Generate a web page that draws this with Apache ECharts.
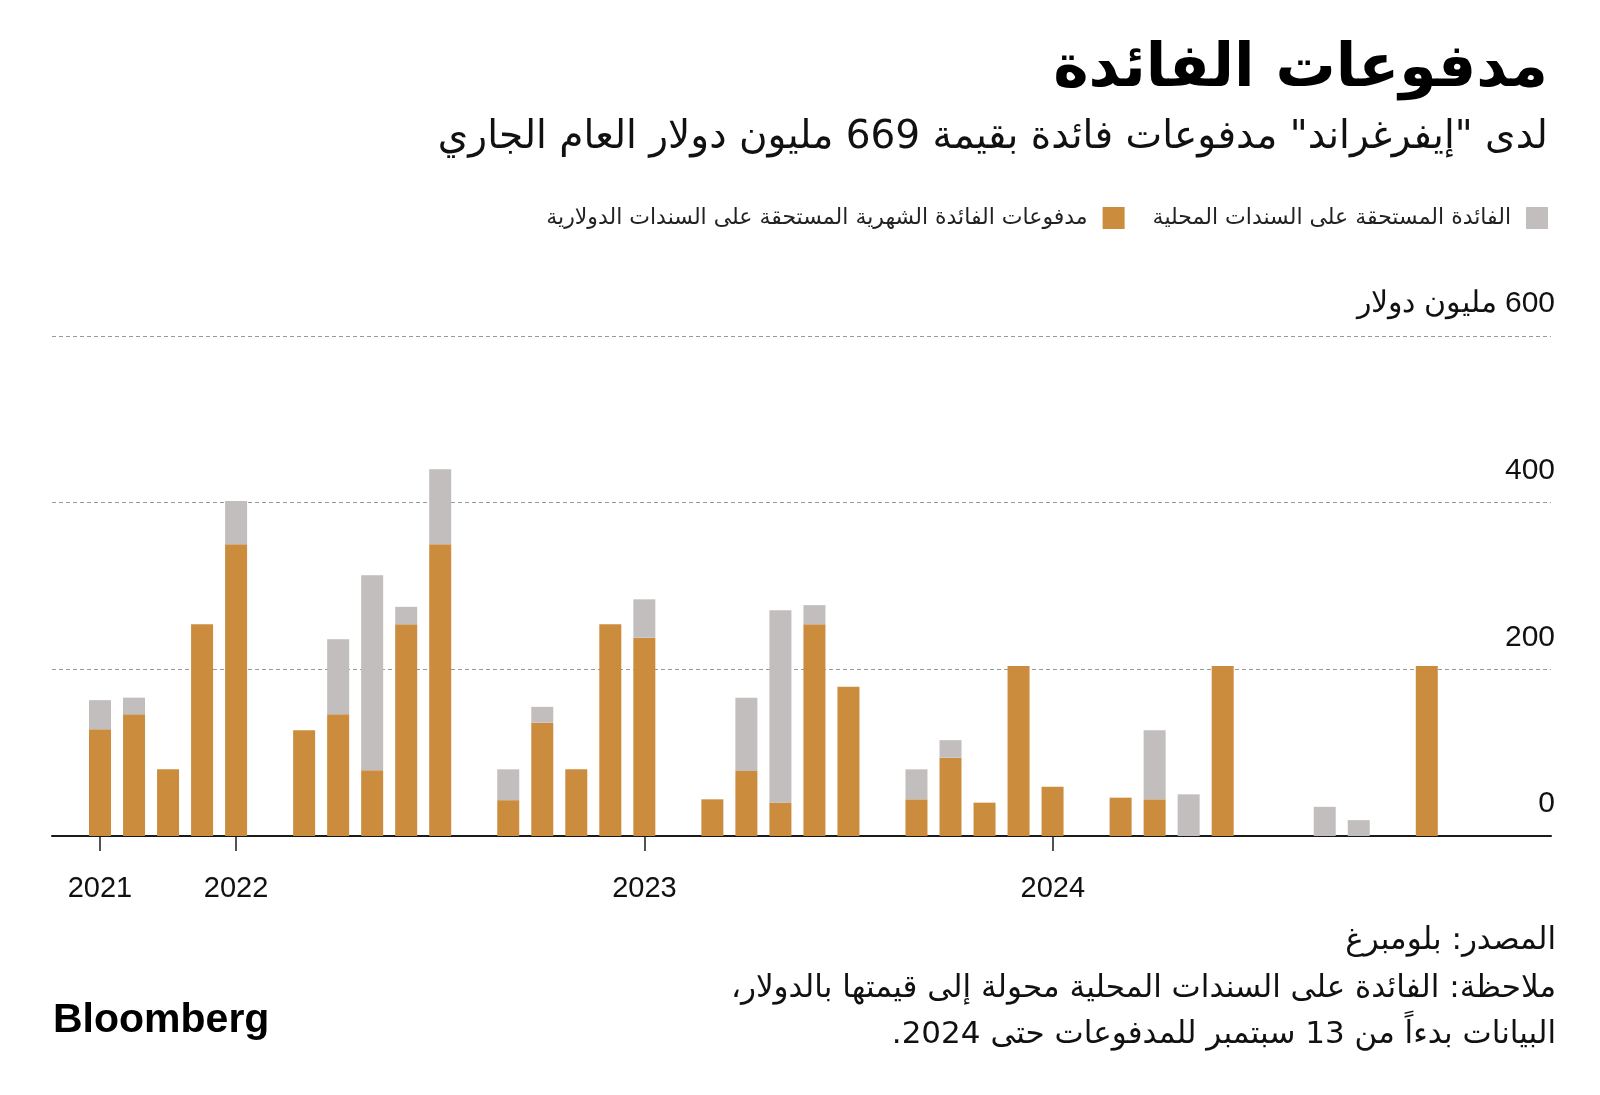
<!DOCTYPE html>
<html>
<head>
<meta charset="utf-8">
<script src="https://cdn.jsdelivr.net/npm/echarts@6/dist/echarts.min.js"></script>
<style>
  html, body { margin: 0; padding: 0; background: #ffffff; }
  #chart { width: 1600px; height: 1095px; direction: rtl; }
</style>
</head>
<body>
<div id="chart"></div>
<script>
// Months (Sep 2021 .. Dec 2024), one bar slot per month
const months = [
  '2021-09','2021-10','2021-11','2021-12',
  '2022-01','2022-02','2022-03','2022-04','2022-05','2022-06','2022-07','2022-08','2022-09','2022-10','2022-11','2022-12',
  '2023-01','2023-02','2023-03','2023-04','2023-05','2023-06','2023-07','2023-08','2023-09','2023-10','2023-11','2023-12',
  '2024-01','2024-02','2024-03','2024-04','2024-05','2024-06','2024-07','2024-08','2024-09','2024-10','2024-11','2024-12'
];
// Monthly interest due on dollar bonds (million USD)
const dollarBonds = [
  128, 146, 80, 254,
  350, null, 127, 146, 79, 254, 350, null, 43, 136, 80, 254,
  238, null, 44, 78, 40, 254, 179, null, 44, 94, 40, 204,
  59, null, 46, 44, null, 204, null, null, null, null, null, 204
];
// Interest due on local bonds (million USD)
const localBonds = [
  35, 20, null, null,
  52, null, null, 90, 234, 21, 90, null, 37, 19, null, null,
  46, null, null, 88, 231, 23, null, null, 36, 21, null, null,
  null, null, null, 83, 50, null, null, null, 35, 19, null, null
];
// Year labels sit on these month positions (index into months)
const yearTickIndex = [0, 4, 16, 28];
const yearTickLabels = ['2021', '2022', '2023', '2024'];
const yTickValues = [0, 200, 400, 600];
const yTickLabels = ['0', '200', '400', '600 مليون دولار'];

const nameLocal = 'الفائدة المستحقة على السندات المحلية';
const nameDollar = 'مدفوعات الفائدة الشهرية المستحقة على السندات الدولارية';
const titleText = 'مدفوعات الفائدة';
const subtitleText = 'لدى "إيفرغراند" مدفوعات فائدة بقيمة 669 مليون دولار العام الجاري';
const sourceText = 'المصدر: بلومبرغ';
const noteLine1 = 'ملاحظة: الفائدة على السندات المحلية محولة إلى قيمتها بالدولار،';
const noteLine2 = 'البيانات بدءاً من 13 سبتمبر للمدفوعات حتى 2024.';

const arabicFont = "'DejaVu Sans', sans-serif";
const latinFont = "'Liberation Sans', Arial, sans-serif";

const slot = 34.02;          // width of one month slot in px
const barLeft = 83;          // left edge of the first month slot
const barRight = 1600 - (barLeft + months.length * slot);

const chart = echarts.init(document.getElementById('chart'), null, { renderer: 'canvas' });

function txt(x, y, text, font, align, color) {
  return { type: 'text', x: x, y: y, style: { text: text, font: font, fill: color || '#111', align: align, verticalAlign: 'middle', textAlign: align, textVerticalAlign: 'middle' } };
}

chart.setOption({
  animation: false,
  backgroundColor: '#ffffff',
  grid: [
    { left: 52, right: 49, top: 336, bottom: 259, containLabel: false },
    { left: barLeft, right: barRight, top: 336, bottom: 259, containLabel: false }
  ],
  legend: {
    right: 52,
    top: 207,
    padding: 0,
    orient: 'horizontal',
    align: 'right',
    icon: 'rect',
    itemWidth: 22,
    itemHeight: 22,
    itemGap: 28,
    data: [nameDollar, nameLocal],
    textStyle: { fontSize: 22, fontFamily: arabicFont, color: '#222', padding: [0, 10, 0, 0] }
  },
  xAxis: [
    {
      gridIndex: 0,
      type: 'value',
      min: -1.41,
      max: 42.64,
      splitLine: { show: false },
      axisLine: { show: true, onZero: false, lineStyle: { color: '#1a1a1a', width: 2 } },
      axisTick: { show: true, customValues: yearTickIndex, length: 15, lineStyle: { color: '#1a1a1a', width: 1.5 } },
      axisLabel: {
        customValues: yearTickIndex,
        formatter: function (v) { return yearTickLabels[yearTickIndex.indexOf(Math.round(v))] || ''; },
        margin: 38, fontSize: 29, color: '#111', fontFamily: latinFont
      }
    },
    {
      gridIndex: 1,
      type: 'category',
      data: months,
      boundaryGap: true,
      show: false
    }
  ],
  yAxis: [
    {
      gridIndex: 0,
      type: 'value',
      position: 'right',
      min: 0, max: 600, interval: 200,
      axisLine: { show: false },
      axisTick: { show: false },
      splitLine: { show: true, lineStyle: { type: [4, 3], color: '#9a9a9a', width: 1 } },
      axisLabel: {
        inside: true,
        margin: -4,
        align: 'right',
        verticalAlign: 'bottom',
        padding: [0, 0, 17, 0],
        fontSize: 30,
        color: '#111',
        fontFamily: latinFont,
        formatter: function (v) { const i = yTickValues.indexOf(v); return i >= 0 ? yTickLabels[i] : ''; }
      }
    },
    {
      gridIndex: 1,
      type: 'value',
      min: 0, max: 600, interval: 200,
      show: false,
      splitLine: { show: false }
    }
  ],
  series: [
    {
      name: nameDollar, type: 'bar', stack: 'total', barWidth: 22,
      xAxisIndex: 1, yAxisIndex: 1,
      itemStyle: { color: '#CC8C3E' },
      data: dollarBonds
    },
    {
      name: nameLocal, type: 'bar', stack: 'total', barWidth: 22,
      xAxisIndex: 1, yAxisIndex: 1,
      itemStyle: { color: '#C1BEBD' },
      data: localBonds
    }
  ],
  graphic: [
    txt(1548, 70, titleText, 'bold 60px ' + arabicFont, 'right', '#000'),
    txt(1548, 138, subtitleText, '39px ' + arabicFont, 'right'),
    txt(1556, 941, sourceText, '31px ' + arabicFont, 'right'),
    txt(1556, 989, noteLine1, '31px ' + arabicFont, 'right'),
    txt(1556, 1035, noteLine2, '31px ' + arabicFont, 'right'),
    { type: 'text', x: 53, y: 1021, style: { text: 'Bloomberg', font: 'bold 41px ' + latinFont, fill: '#000', align: 'left', verticalAlign: 'middle', textAlign: 'left', textVerticalAlign: 'middle' } }
  ]
});
</script>
</body>
</html>
